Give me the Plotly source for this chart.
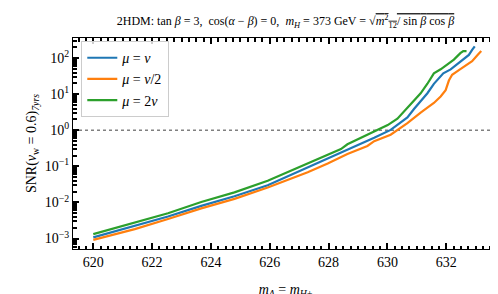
import plotly.graph_objects as go

# ---- data ----
m_blue = [620.0, 621.41, 622.54, 623.67, 624.80, 625.93, 627.29, 627.97, 628.64, 628.98,
          629.55, 630.11, 630.68, 630.91, 631.13, 631.36, 631.58, 631.81, 631.90, 632.15,
          632.37, 632.60, 632.77, 632.88, 632.97]
snr_blue = [1.08e-3, 2.22e-3, 4.10e-3, 8.07e-3, 1.49e-2, 2.99e-2, 9.23e-2, 0.163, 0.284, 0.370,
            0.619, 1.03, 2.29, 3.98, 6.38, 10.7, 19.5, 32.4, 38.0, 49.0,
            67.6, 91.2, 123.0, 170.0, 214.0]

m_orange = [620.0, 621.41, 622.54, 623.67, 624.80, 625.93, 627.29, 627.97, 628.64, 629.32,
            629.55, 630.11, 630.68, 630.91, 631.13, 631.36, 631.58, 631.81, 631.98, 632.09,
            632.20, 632.43, 632.65, 632.88, 633.05, 633.19]
snr_orange = [9.2e-4, 1.82e-3, 3.48e-3, 6.84e-3, 1.26e-2, 2.59e-2, 6.92e-2, 0.120, 0.222, 0.370,
              0.502, 0.759, 1.58, 2.29, 3.11, 4.24, 5.75, 8.69, 13.0, 24.0,
              34.8, 46.5, 60.4, 82.2, 119.0, 158.0]

m_green = [620.0, 621.41, 622.54, 623.67, 624.80, 625.93, 627.29, 627.97, 628.42, 628.64,
           628.98, 629.55, 630.01, 630.34, 630.68, 630.91, 631.13, 631.36, 631.53, 631.58,
           631.81, 632.03, 632.26, 632.48, 632.58, 632.69]
snr_green = [1.33e-3, 2.72e-3, 5.02e-3, 1.03e-2, 1.91e-2, 3.98e-2, 0.120, 0.200, 0.302, 0.410,
             0.558, 0.929, 1.40, 2.11, 4.24, 7.05, 10.6, 19.6, 32.7, 37.9,
             49.3, 67.1, 91.2, 138.0, 158.0, 158.0]

labels = ["<i>μ</i> = <i>v</i>", "<i>μ</i> = <i>v</i>/2", "<i>μ</i> = 2<i>v</i>"]
colors = ["#1f77b4", "#ff7f0e", "#2ca02c"]

x_ticks = [620, 622, 624, 626, 628, 630, 632]
y_exps = [-3, -2, -1, 0, 1, 2]
x_range = [619.31, 633.76]
snr_ref = 1.0

FONT = "Liberation Serif"

fig = go.Figure()
fig.add_trace(go.Scatter(x=x_range, y=[snr_ref, snr_ref], mode="lines", showlegend=False,
                         hoverinfo="skip", line=dict(color="#808080", width=1.5, dash="dot")))
for m, s, lab, c in zip([m_blue, m_orange, m_green], [snr_blue, snr_orange, snr_green], labels, colors):
    fig.add_trace(go.Scatter(x=m, y=s, mode="lines", name=lab,
                             line=dict(color=c, width=2.2)))

fig.update_xaxes(range=x_range, tickvals=x_ticks,
                 ticktext=[str(v) for v in x_ticks],
                 showline=True, linecolor="black", mirror="allticks",
                 ticks="inside", ticklen=6, tickwidth=1.8, tickcolor="black", showgrid=False,
                 tickfont=dict(family=FONT, size=14, color="black"),
                 minor=dict(ticks="inside", ticklen=3.5, dtick=0.25, tickcolor="black"),
                 title=dict(text="<i>m</i><sub><i>A</i></sub> = <i>m</i><sub><i>H</i>±</sub>",
                            font=dict(family=FONT, size=14, color="black")))
fig.update_yaxes(type="log", range=[-3.29, 2.56],
                 tickvals=[10.0 ** e for e in y_exps],
                 ticktext=["10<sup>%s</sup>" % (str(e).replace("-", "−")) for e in y_exps],
                 showline=True, linecolor="black", mirror="allticks",
                 ticks="inside", ticklen=6, tickwidth=1.8, tickcolor="black", showgrid=False,
                 tickfont=dict(family=FONT, size=14, color="black"),
                 minor=dict(ticks="inside", ticklen=3.5, dtick="D1", tickcolor="black"),
                 title=dict(text="SNR(<i>v</i><sub>w</sub> = 0.6)<sub><i>7yrs</i></sub>",
                            font=dict(family=FONT, size=14, color="black"), standoff=4))

fig.update_layout(
    width=498, height=294,
    margin=dict(l=65, r=7, t=30, b=45),
    plot_bgcolor="white",
    title=dict(text="2HDM: tan <i>β</i> = 3,  cos(<i>α</i> − <i>β</i>) = 0,  <i>m<sub>H</sub></i> = 373 GeV = "
                    "√<span style='text-decoration:overline'><i>m</i><sup>2</sup><sub>12</sub>/ sin <i>β</i> cos <i>β</i></span>",
               x=0.5, xref="paper", xanchor="center", y=1 - 13 / 294, yanchor="middle",
               font=dict(family=FONT, size=12, color="black")),
    legend=dict(x=0.0195, y=0.985, xanchor="left", yanchor="top",
                bgcolor="rgba(255,255,255,0.8)", bordercolor="#cccccc", borderwidth=1,
                font=dict(family=FONT, size=14, color="black"), itemwidth=30, tracegroupgap=0),
    showlegend=True,
)

fig.write_html("out.html")
